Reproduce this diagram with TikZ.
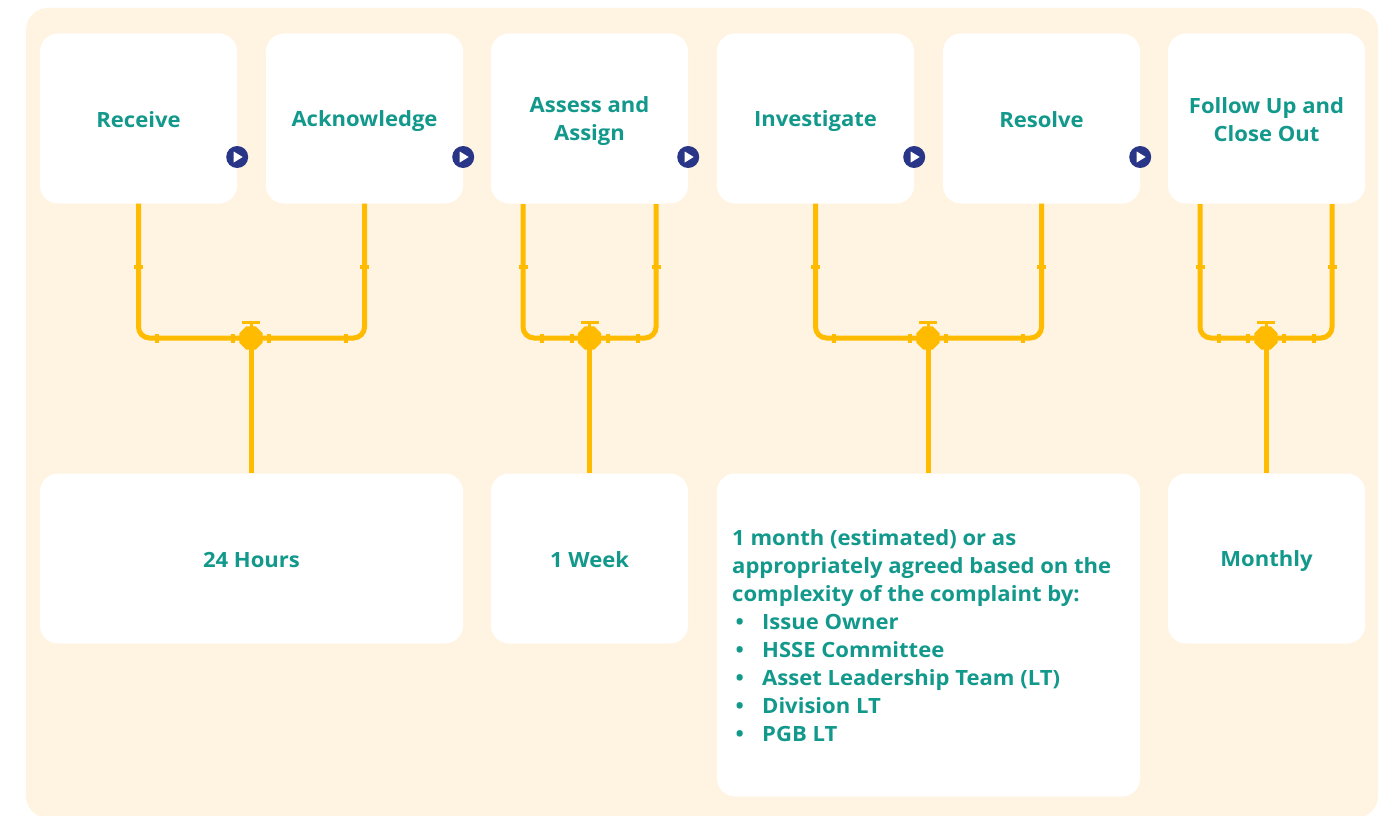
\documentclass[tikz,border=0pt]{standalone}
\usepackage{fontspec}
\setmainfont{Open Sans}[FakeStretch=1.05]
\usetikzlibrary{calc,shapes.geometric}
\definecolor{cream}{HTML}{FFF3E2}
\definecolor{stepteal}{HTML}{12998C}
\definecolor{navy}{HTML}{293586}
\definecolor{pipecol}{HTML}{FFBB00}
\newcommand\lbl{\bfseries\fontsize{21}{28}\selectfont}
% fixed line height and depth so every label sits on the same baseline
\newcommand\lstrut{\rule[-5pt]{0pt}{27pt}}
\begin{document}
\begin{tikzpicture}[x=1pt,y=-1pt,
  card/.style={fill=white, rounded corners=18pt, minimum width=197pt,
    minimum height=170pt, inner sep=0pt, font=\lbl, text=stepteal, align=center},
  widecard/.style={card, minimum width=423pt},
  play/.style={circle, fill=navy, minimum size=22pt, inner sep=0pt},
  pipeline/.style={draw=pipecol, line width=5pt},
  valvebody/.style={regular polygon, regular polygon sides=8, fill=pipecol,
    minimum size=25pt, inner sep=0pt},
]
\useasboundingbox (0,0) rectangle (1389,816);
\fill[cream, rounded corners=22pt] (26,8) rectangle (1378,818);

% process steps
\node[card] (r1) at (138.5,118.5) {\lstrut Receive};
\node[card] (r2) at (364.5,118.5) {\lstrut Acknowledge};
\node[card] (r3) at (589.5,118.5) {\lstrut Assess and\\\lstrut Assign};
\node[card] (r4) at (815.5,118.5) {\lstrut Investigate};
\node[card] (r5) at (1041.5,118.5) {\lstrut Resolve};
\node[card] (r6) at (1266.5,118.5) {\lstrut Follow Up and\\\lstrut Close Out};

% time frames
\node[widecard] (b1) at (251.5,558.5) {\lstrut 24 Hours};
\node[card] (b2) at (589.5,558.5) {\lstrut 1 Week};
\node[widecard, minimum height=323pt] (b3) at (928.5,635) {};
\node[card] (b4) at (1266.5,558.5) {\lstrut Monthly};
\node[anchor=north west, inner sep=0pt, font=\lbl, text=stepteal, align=left]
  (b3text) at (732,529) {1 month (estimated) or as\\
  appropriately agreed based on the\\
  complexity of the complaint by:\\
  \makebox[30pt][l]{\,•}Issue Owner\\
  \makebox[30pt][l]{\,•}HSSE Committee\\
  \makebox[30pt][l]{\,•}Asset Leadership Team (LT)\\
  \makebox[30pt][l]{\,•}Division LT\\
  \makebox[30pt][l]{\,•}PGB LT};

% play markers between steps
\coordinate (row) at (0,157);
\foreach \s/\n in {r1/p1, r2/p2, r3/p3, r4/p4, r5/p5} {
  \node[play] (\n) at (\s.east |- row) {};
  \fill[white] ($(\n)+(-3.5,-5.5)$) -- ($(\n)+(5.5,0)$) -- ($(\n)+(-3.5,5.5)$) -- cycle;
}

% pipe end points
\coordinate (r3l) at (523,204);
\coordinate (r3r) at (656,204);
\coordinate (r6l) at (1200,204);
\coordinate (r6r) at (1332,204);
\coordinate (v1) at (251,338);
\coordinate (v2) at (589.5,338);
\coordinate (v3) at (928,338);
\coordinate (v4) at (1266,338);

% pipes
\foreach \a/\v/\b/\t in {r1.south/v1/r2.south/b1, r3l/v2/r3r/b2, r4.south/v3/r5.south/b3, r6l/v4/r6r/b4} {
  \draw[pipeline, rounded corners=11pt] (\a) |- (\v) -| (\b);
  \draw[pipeline] (\v) -- (\v |- \t.north);
  % flanges on the risers
  \fill[pipecol] ($(\a |- 0,267)+(-4.5,-2)$) rectangle ($(\a |- 0,267)+(4.5,2)$);
  \fill[pipecol] ($(\b |- 0,267)+(-4.5,-2)$) rectangle ($(\b |- 0,267)+(4.5,2)$);
  % flanges on the header
  \fill[pipecol] ($(\a |- \v)+(16.5,-4.5)$) rectangle ($(\a |- \v)+(20.5,4.5)$);
  \fill[pipecol] ($(\b |- \v)+(-20.5,-4.5)$) rectangle ($(\b |- \v)+(-16.5,4.5)$);
  \fill[pipecol] ($(\v)+(-20,-4.5)$) rectangle ($(\v)+(-16,4.5)$);
  \fill[pipecol] ($(\v)+(16,-4.5)$) rectangle ($(\v)+(20,4.5)$);
  % valve with handle
  \node[valvebody] at (\v) {};
  \draw[pipecol, line width=3pt] (\v) -- ++(0,-15);
  \fill[pipecol] ($(\v)+(-9,-17.5)$) rectangle ($(\v)+(9,-14.5)$);
}
\end{tikzpicture}
\end{document}
